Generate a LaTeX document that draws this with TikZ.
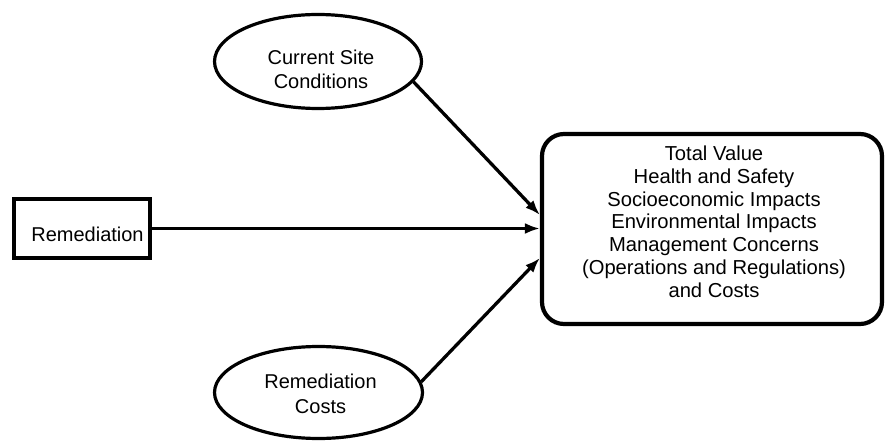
\documentclass[tikz,border=0pt]{standalone}
\usepackage{fontspec}
\setmainfont{Liberation Sans}
\usetikzlibrary{arrows.meta,shapes.geometric}
\begin{document}
\begin{tikzpicture}[x=1pt,y=-1pt,
  chance/.style={draw, ellipse, line width=3.2pt, inner sep=0pt},
  decision/.style={draw, rectangle, line width=4.2pt, inner sep=0pt},
  valuebox/.style={draw, rectangle, rounded corners=22pt, line width=4.2pt, inner sep=0pt},
  lbl/.style={inner sep=0pt, align=center, font=\fontsize{20}{24.5}\selectfont},
  biglbl/.style={inner sep=0pt, align=center, font=\fontsize{20.2}{22.8}\selectfont},
  link/.style={line width=3.3pt, -{Latex[length=15pt,width=11pt]}}]
  \useasboundingbox (0,0) rectangle (886,441);

  % influence nodes
  \node[chance, minimum width=207pt, minimum height=94pt] (site) at (318,61.5) {};
  \node[lbl] (sitetext) at (321,69.5) {Current Site\\Conditions};

  \node[chance, minimum width=208pt, minimum height=92pt] (cost) at (318.5,392.5) {};
  \node[lbl] (costtext) at (320.5,394) {Remediation\\Costs};

  \node[decision, minimum width=136pt, minimum height=59pt] (rem) at (82,228.5) {};
  \node[lbl, anchor=base] (remtext) at (87.5,241.7) {Remediation};

  \node[valuebox, minimum width=340pt, minimum height=190pt] (value) at (712,229) {};
  \node[biglbl] (valuetext) at (714,221.6) {Total Value\\Health and Safety\\Socioeconomic Impacts\\Environmental Impacts\\Management Concerns\\(Operations and Regulations)\\and Costs};

  % arrival points on the value node
  \coordinate (in1) at ([yshift=14pt]value.west);
  \coordinate (in2) at (value.west |- rem.east);
  \coordinate (in3) at ([yshift=-29pt]value.west);

  % arcs
  \draw[link] (site.-12) -- (in1);
  \draw[link] (rem.east) -- (in2);
  \draw[link] (cost.6) -- (in3);
\end{tikzpicture}
\end{document}
